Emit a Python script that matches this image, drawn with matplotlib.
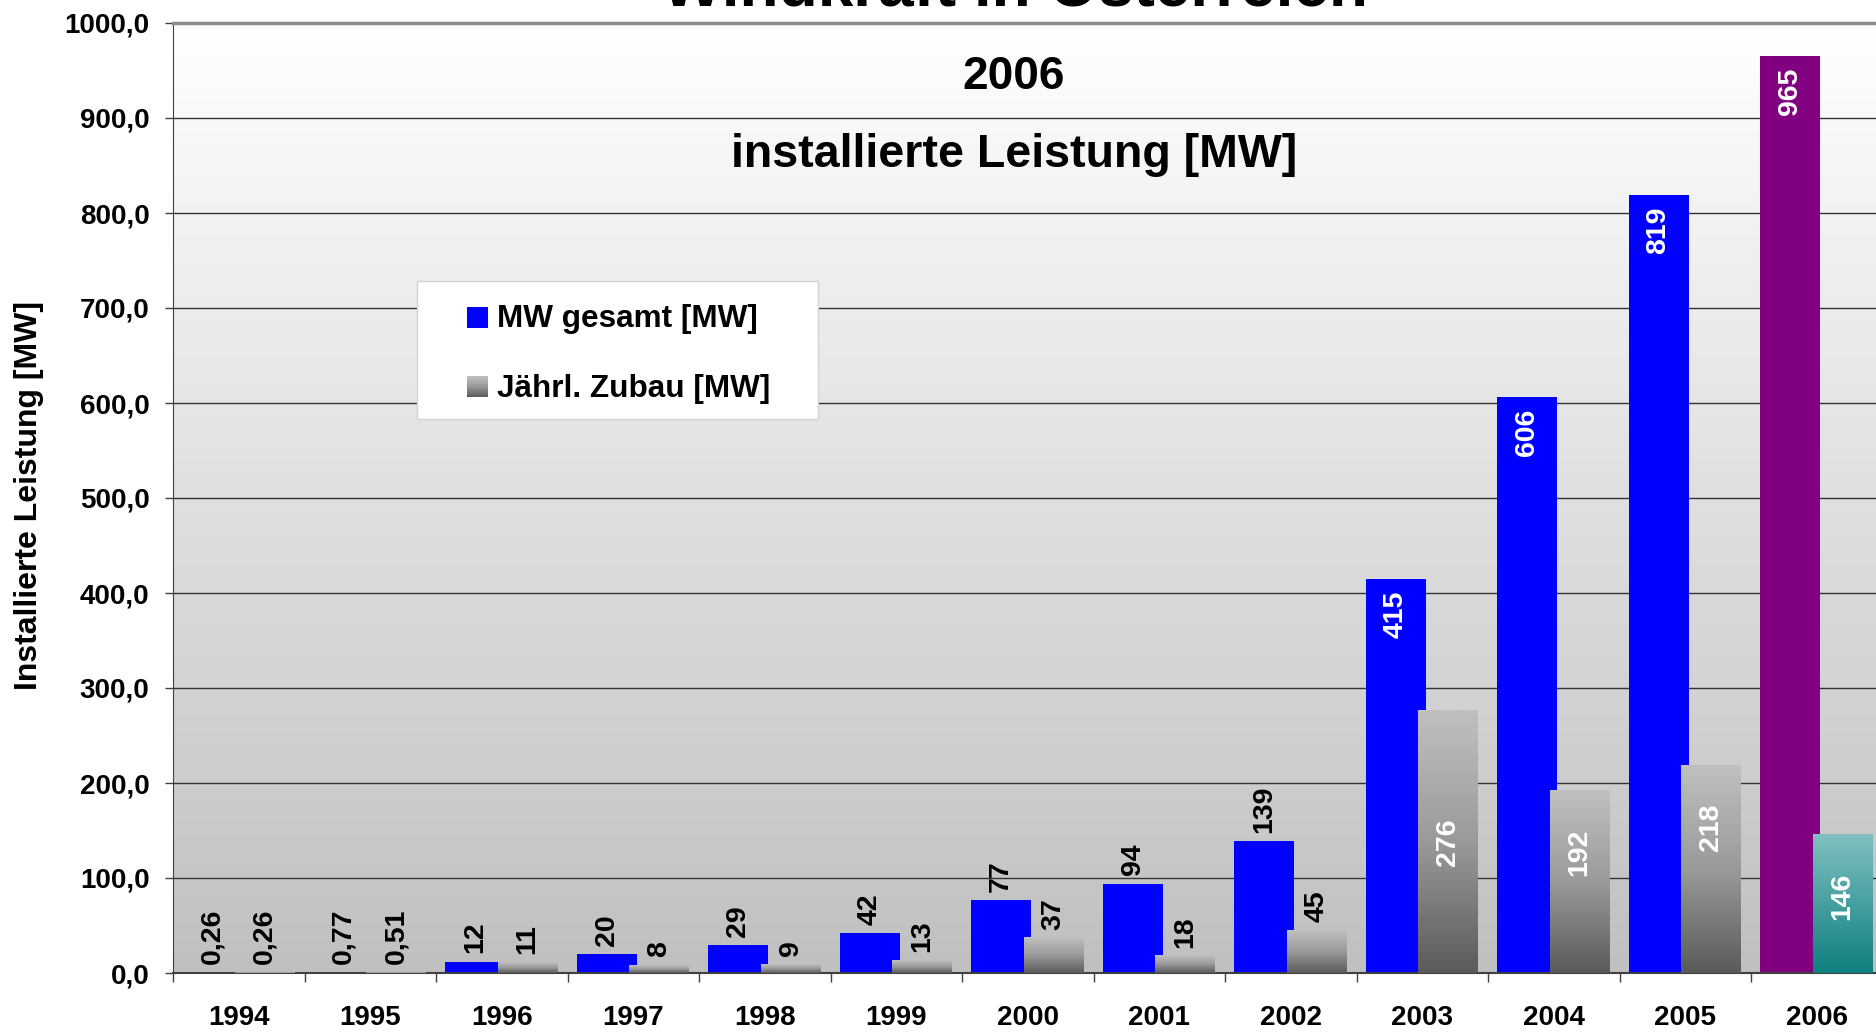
import numpy as np
import matplotlib
matplotlib.use('Agg')
import matplotlib.pyplot as plt
from matplotlib.colors import LinearSegmentedColormap
from matplotlib.patches import Rectangle

plt.rcParams['font.family'] = ['Liberation Sans', 'DejaVu Sans']
plt.rcParams['font.weight'] = 'bold'

years = ['1994', '1995', '1996', '1997', '1998', '1999', '2000',
         '2001', '2002', '2003', '2004', '2005', '2006']
gesamt = [0.26, 0.77, 12, 20, 29, 42, 77, 94, 139, 415, 606, 819, 965]
zubau = [0.26, 0.51, 11, 8, 9, 13, 37, 18, 45, 276, 192, 218, 146]
yticks = np.arange(0, 1001, 100)

W, H = 1876, 1033
fig = plt.figure(figsize=(W / 100, H / 100), dpi=100)
ax = fig.add_axes([173 / W, 1 - 973 / H, 1709.5 / W, 950 / H])

x = np.arange(len(years)) + 0.5
bw = 0.455
grad = np.linspace(0, 1, 256).reshape(-1, 1)

# plot area background: light at top, grey at bottom
bg = LinearSegmentedColormap.from_list('bg', ['#C0C0C0', '#FFFFFF'])
ax.imshow(grad, cmap=bg, origin='lower', extent=[0, len(years), 0, 1000],
          aspect='auto', zorder=0)

grey = LinearSegmentedColormap.from_list('grey', ['#5A5A5A', '#9A9A9A', '#C0C0C0'])
teal = LinearSegmentedColormap.from_list('teal', ['#0F7F7F', '#80C0C0'])

colors1 = ['#0000FF'] * (len(years) - 1) + ['#800080']
bars1 = ax.bar(x - 0.2025, gesamt, bw, color=colors1, zorder=2)
bars2 = ax.bar(x + 0.1975, zubau, bw, color='none', zorder=3)
for i, b in enumerate(bars2):
    cm = teal if years[i] == '2006' else grey
    ax.imshow(grad, cmap=cm, origin='lower', aspect='auto', zorder=3,
              extent=[b.get_x(), b.get_x() + b.get_width(), 0, b.get_height()])


def fmt(v):
    if v < 1:
        return f'{v:.2f}'.replace('.', ',')
    return f'{v:.0f}'


# value labels
for bars, vals in ((bars1, gesamt), (bars2, zubau)):
    for b, v in zip(bars, vals):
        cx = b.get_x() + b.get_width() / 2
        if v > 140:
            if bars is bars1:
                ax.text(cx, v - 12, fmt(v), rotation=90, ha='center', va='top',
                        color='white', fontsize=20.5, zorder=5)
            else:
                yc = v / 2 if v > 250 else v - 65
                ax.text(cx, yc, fmt(v), rotation=90, ha='center', va='center',
                        color='white', fontsize=20.5, zorder=5)
        else:
            ax.annotate(fmt(v), (cx, v), xytext=(0, 6), textcoords='offset points',
                        rotation=90, ha='center', va='bottom', fontsize=20.5, zorder=5)

ax.set_xlim(0, len(years))
ax.set_ylim(0, 1000)

ax.set_xticks(np.arange(len(years) + 1))
ax.set_xticklabels([])
ax.set_xticks(x, minor=True)
ax.set_xticklabels(years, minor=True, fontsize=20)
ax.tick_params(axis='x', which='major', length=6.5, width=1, color='#404040')
ax.tick_params(axis='x', which='minor', length=0, pad=23)

ax.set_yticks(yticks)
ax.set_yticklabels([f'{v:.1f}'.replace('.', ',') for v in yticks], fontsize=20)
ax.tick_params(axis='y', length=6, width=1, color='#404040', pad=11)

ax.set_axisbelow(True)
ax.yaxis.grid(True, color='#333333', lw=1)

ax.spines['right'].set_visible(False)
ax.spines['left'].set_color('#404040')
ax.spines['bottom'].set_color('#404040')
ax.spines['bottom'].set_linewidth(1.5)
ax.spines['top'].set_color('#8C8C8C')
ax.spines['top'].set_linewidth(2.5)

# titles
fig.text(1015 / W, 1 - 6 / H, 'Windkraft in Österreich', fontsize=46,
         ha='center', va='baseline')
fig.text(1014 / W, 1 - 89 / H, '2006', fontsize=33, ha='center', va='baseline')
fig.text(1014 / W, 1 - 167 / H, 'installierte Leistung [MW]', fontsize=33.5,
         ha='center', va='baseline')
fig.text(29.5 / W, 1 - 496 / H, 'Installierte Leistung [MW]', rotation=90,
         fontsize=23, ha='center', va='center')

# legend
fig.add_artist(Rectangle((416.7 / W, 1 - 419 / H), (818 - 416.7) / W, (419 - 280.7) / H,
                         transform=fig.transFigure, fc='white', ec='#D4D4D4', lw=1, zorder=4))
fig.add_artist(Rectangle((466.7 / W, 1 - 327.7 / H), 21 / W, 21 / H,
                         transform=fig.transFigure, fc='#0000FF', ec='none', zorder=5))
lax = fig.add_axes([466.7 / W, 1 - 396.7 / H, 21 / W, 21 / H])
lax.imshow(grad, cmap=grey, origin='lower', aspect='auto')
lax.axis('off')
lax.set_zorder(6)
fig.text(496.7 / W, 1 - 326.7 / H, 'MW gesamt [MW]', fontsize=22.7, va='baseline', zorder=6)
fig.text(496.7 / W, 1 - 396.7 / H, 'Jährl. Zubau [MW]', fontsize=22.7, va='baseline', zorder=6)

fig.savefig('out.png', dpi=100)
